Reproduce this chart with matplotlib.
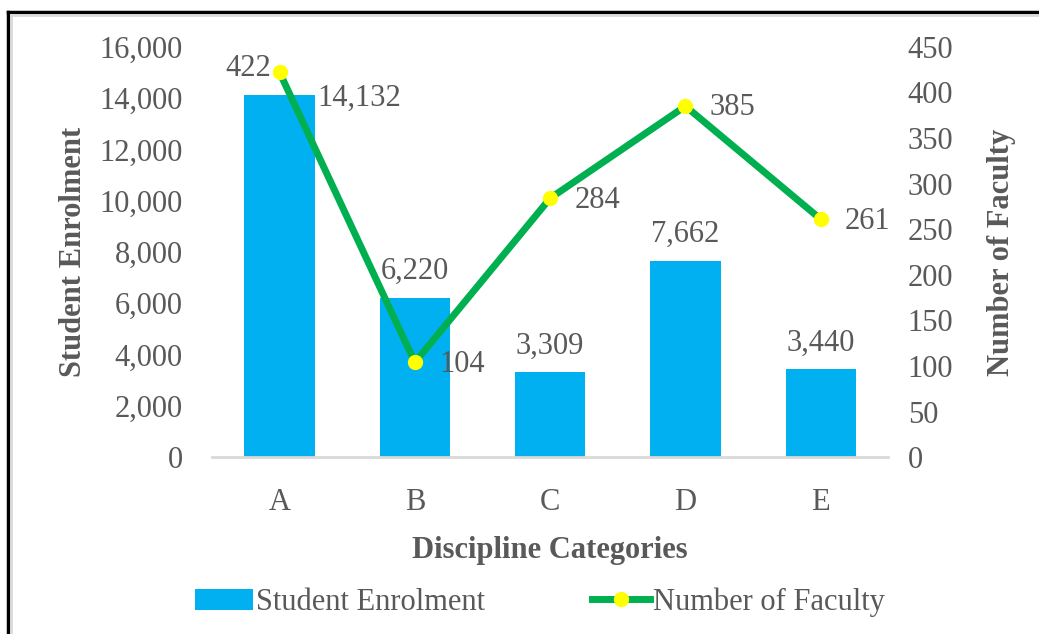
import numpy as np
import matplotlib.pyplot as plt
from matplotlib.lines import Line2D

categories = ['A', 'B', 'C', 'D', 'E']
enrolment = [14132, 6220, 3309, 7662, 3440]
faculty = [422, 104, 284, 385, 261]

plt.rcParams['font.family'] = ['Liberation Serif', 'DejaVu Serif']
grey = '#595959'
fs = 22

fig = plt.figure(figsize=(10.39, 6.34), dpi=100)
ax = fig.add_axes([0.204, 0.279, 0.651, 0.647])
ax2 = ax.twinx()

x = np.arange(len(categories))
ax.bar(x, enrolment, width=0.52, color='#00B0F0', label='Student Enrolment', zorder=2)
ax.set_xlim(-0.5, len(categories) - 0.5)
ax.set_ylim(0, 16000)
ax.set_yticks(np.arange(0, 16001, 2000))
ax.yaxis.set_major_formatter(plt.FuncFormatter(lambda v, p: f'{int(v):,}'))
ax.set_xticks(x)
ax.set_xticklabels(categories)

ax2.plot(x, faculty, color='#00B050', lw=5, marker='o', ms=10,
         mfc='#FFFF00', mec='#FFFF00', label='Number of Faculty', zorder=3)
ax2.set_ylim(0, 450)
ax2.set_yticks(np.arange(0, 451, 50))

for a in (ax, ax2):
    for s in a.spines.values():
        s.set_visible(False)
    a.tick_params(length=0, labelsize=fs, labelcolor=grey)
ax.spines['bottom'].set_visible(True)
ax.spines['bottom'].set_color('#D9D9D9')
ax.spines['bottom'].set_linewidth(2)
ax.tick_params(axis='x', pad=22)
ax.tick_params(axis='y', pad=21)
ax2.tick_params(axis='y', pad=14)

# bar labels
for i, v in enumerate(enrolment):
    if i == 0:
        ax.text(i + 0.28, v - 150, f'{v:,}', ha='left', va='center', fontsize=fs, color=grey)
    else:
        ax.text(i, v + 450, f'{v:,}', ha='center', va='bottom', fontsize=fs, color=grey)

# line labels
for i, v in enumerate(faculty):
    if i == 0:
        ax2.text(i - 0.06, v + 4, str(v), ha='right', va='center', fontsize=fs, color=grey)
    else:
        ax2.text(i + 0.18, v - 2, str(v), ha='left', va='center', fontsize=fs, color=grey)

ax.set_ylabel('Student Enrolment', fontsize=fs, fontweight='bold', color=grey, labelpad=8)
ax2.set_ylabel('Number of Faculty', fontsize=fs, fontweight='bold', color=grey, labelpad=24)
ax.set_xlabel('Discipline Categories', fontsize=fs, fontweight='bold', color=grey, labelpad=14)

h1, l1 = ax.get_legend_handles_labels()
h2, l2 = ax2.get_legend_handles_labels()
fig.legend(h1 + h2, l1 + l2, loc='center', bbox_to_anchor=(0.52, 0.05), ncol=2,
           frameon=False, fontsize=fs, labelcolor=grey, handlelength=1.9,
           handletextpad=0.1, columnspacing=3.5)

# outer frame
fig.add_artist(Line2D([8 / 1039, 1], [1 - 12 / 634, 1 - 12 / 634], color='black', lw=2.5))
fig.add_artist(Line2D([8 / 1039, 8 / 1039], [0, 1 - 12 / 634], color='black', lw=2.5))
fig.add_artist(Line2D([11 / 1039, 1], [1 - 15 / 634, 1 - 15 / 634], color='#D9D9D9', lw=2))
fig.add_artist(Line2D([11 / 1039, 11 / 1039], [0, 1 - 15 / 634], color='#D9D9D9', lw=2))

fig.savefig('out.png', dpi=100)
